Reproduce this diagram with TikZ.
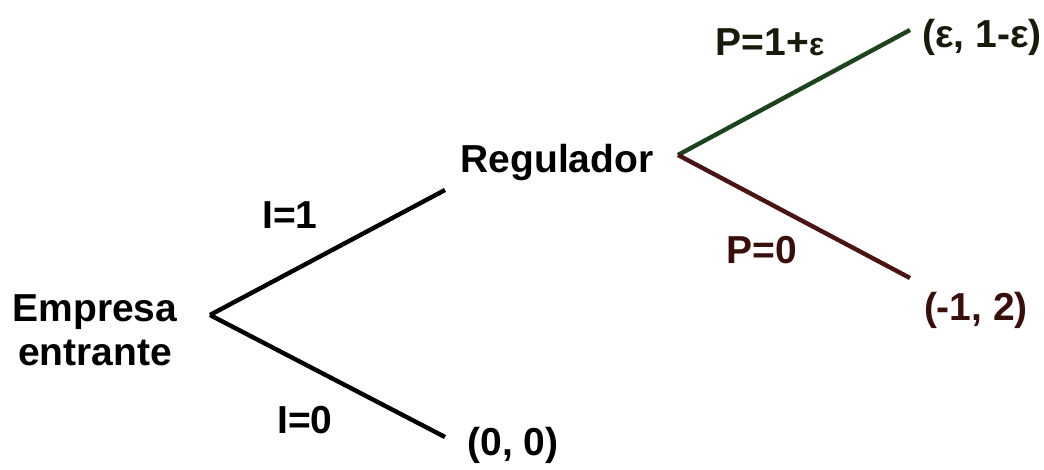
\documentclass[tikz,border=0pt]{standalone}
\usepackage{fontspec}
\setmainfont{Liberation Sans}
\usetikzlibrary{positioning}
\definecolor{verde}{RGB}{28,68,28}
\definecolor{verdetxt}{RGB}{22,28,10}
\definecolor{rojo}{RGB}{74,20,20}
\definecolor{rojotxt}{RGB}{58,14,10}

\begin{document}
\begin{tikzpicture}[x=0.5pt, y=-0.5pt,
		font=\bfseries\fontsize{19.5}{22}\selectfont,
		rama/.style={line width=2.2pt},
		etiq/.style={inner sep=0pt, align=center}]
	\useasboundingbox (0,0) rectangle (1044,470);
			% vertices
			\coordinate (v0) at (210,315);
			\coordinate (v1) at (678,155);
			\coordinate (a1) at (445,190);
			\coordinate (a0) at (445,437);
			\coordinate (b1) at (910,30);
			\coordinate (b0) at (910,278);
			% jugadores y pagos
			\node[etiq] (empresa) at (95,330) {Empresa\\entrante};
			\node[etiq] (regulador) at (557,163) {Regulador};
			\node[etiq] (pago00) at (513,445) {(0, 0)};
			\node[etiq, text=verdetxt] (pagoeps) at (982,37) {(ε, 1-ε)};
			\node[etiq, text=rojotxt] (pagom1) at (976,310) {(-1, 2)};
			% ramas
			\draw[rama] (v0) -- (a1);
			\draw[rama] (v0) -- (a0);
			\draw[rama, verde] (v1) -- (b1);
			\draw[rama, rojo] (v1) -- (b0);
			% acciones
			\node[etiq] (i1) at (290,215) {I=1};
			\node[etiq] (i0) at (305,420) {I=0};
			\node[etiq, text=verdetxt] (p1) at (770,42) {P=1+{\fontsize{16}{16}\selectfont ε}};
			\node[etiq, text=rojotxt] (p0) at (762,250) {P=0};
	\end{tikzpicture}
\end{document}
